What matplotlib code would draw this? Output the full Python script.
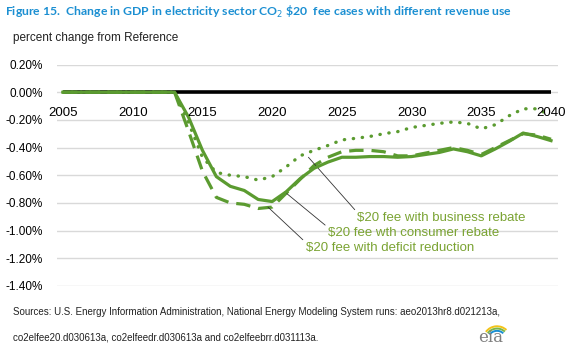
import matplotlib
matplotlib.use("Agg")
import matplotlib.pyplot as plt
from matplotlib.patches import Arc
from matplotlib import font_manager

years = list(range(2005, 2041))

# percent change from Reference (2005-2040)
deficit_reduction = [0]*9 + [-0.28, -0.57, -0.76, -0.80, -0.81, -0.84, -0.83, -0.73, -0.63,
                             -0.53, -0.47, -0.43, -0.42, -0.42, -0.43, -0.46, -0.46, -0.44,
                             -0.42, -0.40, -0.42, -0.45, -0.40, -0.35, -0.30, -0.31, -0.34]
consumer_rebate = [0]*9 + [-0.18, -0.42, -0.61, -0.68, -0.71, -0.775, -0.79, -0.72, -0.625,
                           -0.55, -0.505, -0.47, -0.47, -0.465, -0.465, -0.47, -0.465, -0.45,
                           -0.435, -0.41, -0.43, -0.46, -0.41, -0.355, -0.295, -0.32, -0.35]
business_rebate = [0]*9 + [-0.22, -0.47, -0.58, -0.60, -0.61, -0.635, -0.61, -0.54, -0.46,
                           -0.42, -0.385, -0.345, -0.333, -0.32, -0.30, -0.285, -0.255, -0.24,
                           -0.225, -0.215, -0.225, -0.265, -0.235, -0.17, -0.12, -0.12, -0.17]
reference = [0]*len(years)

yticks = [0.2, 0.0, -0.2, -0.4, -0.6, -0.8, -1.0, -1.2, -1.4]
xlabels = [2005, 2010, 2015, 2020, 2025, 2030, 2035, 2040]

green = "#5b9b30"
label_green = "#7aa332"
blue = "#1b8fd2"

installed = {f.name for f in font_manager.fontManager.ttflist}
if "Liberation Sans Narrow" in installed:
    title_font, title_size = "Liberation Sans Narrow", 10.0
else:
    title_font, title_size = "Lato", 8.8

fig = plt.figure(figsize=(5.74, 3.52), dpi=100)
ax = fig.add_axes([57/574, 1-286/352, (558-57)/574, (286-64.5)/352])

ax.set_xlim(2004.57, 2040.5)
ax.set_ylim(-1.4, 0.2)
for s in ax.spines.values():
    s.set_visible(False)
ax.set_yticks(yticks)
ax.set_yticklabels([f"{v:.2f}%" for v in yticks], fontsize=8.5, family="Liberation Sans")
ax.tick_params(axis="y", length=0, pad=10)
ax.set_xticks([])
ax.grid(axis="y", color="#d9d9d9", lw=1)
ax.set_axisbelow(True)

ax.plot(years, reference, color="black", lw=2.6, zorder=2, solid_capstyle="butt")
ax.plot(years, deficit_reduction, color=green, lw=2.3, ls=(0, (4.5, 2.5)), zorder=3)
ax.plot(years, business_rebate, color=green, lw=2.4, ls=(0, (0.1, 2.6)),
        dash_capstyle="round", zorder=3)
ax.plot(years, consumer_rebate, color=green, lw=2.3, zorder=4)

for yr in xlabels:
    ax.annotate(str(yr), (yr, 0), xytext=(0, -15), textcoords="offset points",
                ha="center", va="center", fontsize=9.5, family="Liberation Sans", zorder=5)

# callout labels: (text, point on curve, text position)
callouts = [
    ("$20 fee with business rebate", (2022.6, -0.47), (2026.1, -0.912)),
    ("$20 fee wth consumer rebate", (2020.9, -0.72), (2024.0, -1.02)),
    ("$20 fee with deficit reduction", (2019.7, -0.83), (2022.4, -1.128)),
]
for txt, pt, pos in callouts:
    ax.annotate(txt, xy=pt, xytext=pos, ha="left", va="center", fontsize=9.5,
                family="Liberation Sans", color=label_green,
                arrowprops=dict(arrowstyle="-", color="#333333", lw=0.6,
                                shrinkA=0, shrinkB=0, relpos=(0, 1)))

fig.text(5/574, 1-12/352, "Figure 15.  Change in GDP in electricity sector CO$_2$ \\$20  fee cases with different revenue use",
         fontsize=title_size, fontweight="bold", color=blue, family=title_font, va="center")
fig.text(13/574, 1-38/352, "percent change from Reference", fontsize=8.5,
         family="Liberation Sans", va="center", color="#222222")
fig.text(13/574, 1-312/352,
         "Sources: U.S. Energy Information Administration, National Energy Modeling System runs: aeo2013hr8.d021213a,",
         fontsize=7.0, family="Liberation Sans", va="center", color="#222222")
fig.text(13/574, 1-337/352, "co2elfee20.d030613a, co2elfeedr.d030613a and co2elfeebrr.d031113a.",
         fontsize=7.0, family="Liberation Sans", va="center", color="#222222")

# eia logo
fig.text(491/574, 1-338/352, "eia", fontsize=12, family="DejaVu Serif", color="#7f7f7f",
         ha="center", va="center")
for r, c in [(0.030, "#f2c318"), (0.025, "#7ab648"), (0.020, "#1b8fd2")]:
    fig.patches.append(Arc((497/574, 1-340/352), r*1.6, r*2.6, theta1=60, theta2=130,
                           transform=fig.transFigure, color=c, lw=1.4))

fig.savefig("out.png", dpi=100)
